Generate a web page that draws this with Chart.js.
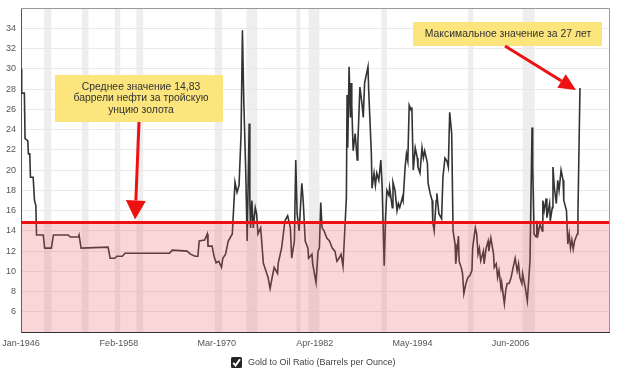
<!DOCTYPE html>
<html>
<head>
<meta charset="utf-8">
<script src="https://cdn.jsdelivr.net/npm/chart.js@4.4.1/dist/chart.umd.min.js"></script>
<style>
  html, body { margin: 0; padding: 0; background: #fff; }
  #wrap { width: 620px; height: 372px; }
</style>
</head>
<body>
<div id="wrap"><canvas id="chart" width="620" height="372"></canvas></div>
<script>
// x axis: months since Jan-1946, labelled every 145 months
const tickMonth = [0, 145, 290, 435, 580, 725];
const tickLabels = ['Jan-1946', 'Feb-1958', 'Mar-1970', 'Apr-1982', 'May-1994', 'Jun-2006'];
const axisEnd = 871;

// gold to oil ratio, barrels per ounce (month index, value)
const month = [0, 1, 5, 6, 10, 11, 13, 14, 18, 20, 22, 23, 33, 35, 45, 48, 70, 73, 85, 86,
  89, 129, 132, 139, 142, 150, 154, 176, 220, 224, 246, 251, 258, 262, 264, 272, 276, 277, 283, 286,
  289, 293, 297, 299, 303, 307, 313, 317, 320, 323, 326, 328, 330, 333, 335, 338, 339, 340, 342, 344,
  347, 349, 351, 355, 359, 361, 366, 369, 372, 375, 380, 381, 384, 386, 391, 395, 399, 401, 405, 407,
  409, 412, 416, 418, 421, 425, 426, 431, 432, 437, 440, 442, 444, 446, 449, 453, 457, 461, 465, 468,
  471, 474, 477, 482, 483, 484, 486, 488, 489, 490, 492, 495, 498, 499, 502, 505, 507, 509, 514, 515,
  519, 520, 523, 525, 527, 530, 533, 535, 538, 540, 542, 545, 546, 550, 551, 554, 557, 559, 561, 565,
  566, 569, 571, 573, 575, 578, 579, 581, 584, 587, 588, 591, 594, 596, 598, 602, 603, 606, 609, 610,
  612, 615, 616, 619, 623, 625, 628, 631, 633, 635, 638, 640, 643, 644, 648, 649, 652, 654, 656, 659,
  662, 665, 668, 669, 673, 675, 677, 679, 681, 685, 686, 689, 692, 693, 696, 700, 701, 704, 706, 708,
  711, 712, 716, 718, 720, 723, 726, 729, 732, 735, 737, 739, 742, 743, 747, 750, 751, 754, 757, 758,
  760, 763, 764, 766, 769, 772, 773, 775, 778, 779, 783, 784, 787, 788, 790, 793, 795, 797, 800, 803,
  804, 808, 810, 812, 814, 816, 818, 820, 824, 825, 828];
const ratio = [30.0, 27.6, 27.6, 23.1, 22.9, 21.6, 21.6, 19.3, 19.3, 17.0, 16.5, 13.6, 13.6, 12.3, 12.3, 13.6, 13.6, 13.4, 13.4, 13.6,
  12.3, 12.4, 11.3, 11.3, 11.5, 11.5, 11.8, 11.8, 11.8, 12.1, 12.0, 11.7, 11.5, 11.5, 13.0, 13.1, 13.7, 12.5, 12.5, 11.5,
  10.85, 11.0, 10.4, 11.3, 11.7, 13.0, 13.7, 18.8, 17.8, 18.5, 23.6, 33.8, 26.9, 19.6, 13.0, 24.6, 17.0, 14.3, 17.0, 14.3,
  16.3, 15.7, 13.7, 14.3, 10.8, 10.4, 9.4, 8.3, 9.4, 10.4, 9.8, 10.8, 11.7, 12.3, 15.0, 15.5, 14.3, 11.3, 13.0, 21.0,
  15.7, 14.0, 18.7, 17.0, 13.0, 12.3, 11.3, 11.7, 10.8, 8.9, 12.0, 12.3, 16.8, 14.3, 14.0, 13.3, 13.0, 12.3, 12.0, 11.0,
  11.3, 11.7, 10.5, 17.3, 27.4, 22.2, 30.2, 25.2, 28.6, 26.3, 21.9, 23.6, 21.0, 22.7, 28.2, 26.6, 25.2, 28.6, 30.2, 27.9,
  21.6, 18.2, 19.7, 18.5, 19.7, 19.0, 21.0, 18.3, 10.55, 15.3, 18.0, 17.5, 18.3, 16.3, 18.8, 18.0, 16.0, 16.7, 16.3, 17.3,
  17.0, 20.3, 21.6, 20.9, 26.4, 25.9, 26.2, 20.0, 22.2, 21.2, 20.3, 19.7, 22.2, 21.2, 21.9, 20.7, 18.7, 17.7, 17.0, 14.8,
  14.0, 17.0, 17.7, 15.7, 15.2, 19.3, 21.2, 20.9, 20.3, 25.7, 23.6, 14.0, 12.7, 10.75, 13.5, 11.0, 10.4, 9.8, 7.8, 8.8,
  9.4, 9.6, 10.1, 12.3, 14.3, 13.7, 11.7, 12.3, 11.05, 12.0, 10.75, 12.3, 13.0, 12.0, 13.3, 11.7, 10.4, 10.75, 9.4, 10.1,
  8.4, 8.9, 6.8, 8.1, 8.8, 8.8, 9.4, 10.4, 11.3, 10.05, 10.75, 9.4, 8.8, 9.8, 8.4, 7.1, 7.1, 11.05, 24.2, 20.3,
  13.7, 13.4, 15.0, 13.7, 14.7, 14.0, 17.0, 16.0, 17.2, 15.3, 16.7, 15.0, 16.3, 20.3, 18.3, 16.7, 19.0, 18.0, 20.0, 19.0,
  17.0, 16.0, 12.7, 13.7, 12.3, 13.1, 12.2, 13.0, 13.7, 15.7, 28.1];

const averageRatio = 14.83;

// US recessions, months since Jan-1946 (Nov-48..Oct-49, Jul-53..May-54, ...)
const recessionStart = [34, 90, 139, 171, 287, 334, 408, 426, 534, 662, 743];
const recessionEnd = [45, 100, 147, 181, 298, 350, 414, 442, 542, 670, 761];

const seriesName = 'Gold to Oil Ratio (Barrels per Ounce)';
const noteAverage = ['Среднее значение 14,83', 'баррели нефти за тройскую', 'унцию золота'];
const noteMax = 'Максимальное значение за 27 лет';

const seriesPoints = month.map((m, i) => ({ x: m, y: ratio[i] }));
const averagePoints = [{ x: 0, y: averageRatio }, { x: axisEnd, y: averageRatio }];

const FONT = '"Liberation Sans", Arial, sans-serif';

const bandsPlugin = {
  id: 'bands',
  beforeDraw(chart) {
    const { ctx, chartArea, scales } = chart;
    ctx.save();
    ctx.fillStyle = '#eeeeee';
    recessionStart.forEach((s, i) => {
      const x1 = scales.x.getPixelForValue(s);
      const x2 = scales.x.getPixelForValue(recessionEnd[i]);
      ctx.fillRect(x1, chartArea.top, x2 - x1, chartArea.bottom - chartArea.top);
    });
    ctx.restore();
  }
};

function drawArrow(ctx, x0, y0, x1, y1, headLen, headHalf) {
  const a = Math.atan2(y1 - y0, x1 - x0);
  const bx = x1 - headLen * Math.cos(a), by = y1 - headLen * Math.sin(a);
  ctx.strokeStyle = '#ee1111';
  ctx.fillStyle = '#ee1111';
  ctx.lineWidth = 3;
  ctx.beginPath();
  ctx.moveTo(x0, y0);
  ctx.lineTo(bx, by);
  ctx.stroke();
  ctx.beginPath();
  ctx.moveTo(x1, y1);
  ctx.lineTo(bx + headHalf * Math.sin(a), by - headHalf * Math.cos(a));
  ctx.lineTo(bx - headHalf * Math.sin(a), by + headHalf * Math.cos(a));
  ctx.closePath();
  ctx.fill();
}

const notesPlugin = {
  id: 'notes',
  afterDraw(chart) {
    const { ctx, chartArea, scales } = chart;
    ctx.save();
    // frame: light top / right edges
    ctx.strokeStyle = '#999';
    ctx.lineWidth = 1;
    ctx.beginPath();
    ctx.moveTo(chartArea.left, chartArea.top + 0.5);
    ctx.lineTo(chartArea.right + 0.5, chartArea.top + 0.5);
    ctx.lineTo(chartArea.right + 0.5, chartArea.bottom);
    ctx.stroke();

    ctx.font = '10.4px ' + FONT;
    ctx.textAlign = 'center';
    ctx.textBaseline = 'middle';

    // average note
    ctx.fillStyle = '#fbe57c';
    ctx.fillRect(55, 75, 168, 47);
    ctx.fillStyle = '#333';
    noteAverage.forEach((t, i) => ctx.fillText(t, 141, 87 + i * 11.5));
    drawArrow(ctx, 139, 122,
      scales.x.getPixelForValue(169), scales.y.getPixelForValue(averageRatio) - 3, 19, 10);

    // max note
    ctx.fillStyle = '#fbe57c';
    ctx.fillRect(413, 22, 189, 24);
    ctx.fillStyle = '#333';
    ctx.fillText(noteMax, 508, 34);
    const last = month.length - 1;
    drawArrow(ctx, 505, 46,
      scales.x.getPixelForValue(month[last]) - 4, scales.y.getPixelForValue(ratio[last]) + 2, 17, 8);

    // legend with checkbox
    const lx = 231, ly = 357;
    ctx.fillStyle = '#262626';
    ctx.beginPath();
    ctx.roundRect(lx, ly, 11, 11, 1.5);
    ctx.fill();
    ctx.strokeStyle = '#fff';
    ctx.lineWidth = 1.9;
    ctx.beginPath();
    ctx.moveTo(lx + 2.2, ly + 5.8);
    ctx.lineTo(lx + 4.6, ly + 8.4);
    ctx.lineTo(lx + 9, ly + 2.2);
    ctx.stroke();
    ctx.fillStyle = '#444';
    ctx.textAlign = 'left';
    ctx.font = '9px ' + FONT;
    ctx.fillText(chart.data.datasets[0].label, lx + 17, ly + 6);
    ctx.restore();
  }
};

new Chart(document.getElementById('chart'), {
  type: 'line',
  data: {
    datasets: [
      {
        label: seriesName,
        data: seriesPoints,
        borderColor: '#333333',
        borderWidth: 1.6,
        pointRadius: 0,
        tension: 0,
        fill: false,
        order: 1
      },
      {
        label: 'average',
        data: averagePoints,
        borderColor: '#ee1111',
        borderWidth: 3,
        pointRadius: 0,
        fill: 'start',
        backgroundColor: 'rgba(240, 90, 100, 0.25)',
        order: 0
      }
    ]
  },
  options: {
    responsive: false,
    animation: false,
    layout: { padding: { left: 0, right: 11, top: 8, bottom: 17 } },
    plugins: {
      tooltip: { enabled: false },
      legend: { display: false }
    },
    scales: {
      x: {
        type: 'linear',
        min: 0,
        max: axisEnd,
        afterBuildTicks: axis => { axis.ticks = tickMonth.map(v => ({ value: v })); },
        afterFit: s => { s.paddingLeft = 0; s.paddingRight = 0; },
        grid: { display: false, drawTicks: false },
        border: { color: '#333', width: 1 },
        ticks: {
          autoSkip: false,
          maxRotation: 0,
          padding: 6,
          color: '#555',
          font: { size: 9, family: FONT },
          callback: v => tickLabels[tickMonth.indexOf(v)]
        }
      },
      y: {
        min: 4,
        max: 36,
        afterFit: s => { s.width = 21; s.paddingTop = 0; s.paddingBottom = 0; },
        grid: { color: '#e9e9e9', drawTicks: false },
        border: { color: '#555', width: 1 },
        ticks: {
          stepSize: 1,
          padding: 5,
          color: '#555',
          font: { size: 9, family: FONT },
          callback: v => (v % 2 === 0 && v >= 6 && v <= 34) ? v : ''
        }
      }
    }
  },
  plugins: [bandsPlugin, notesPlugin]
});
</script>
</body>
</html>
